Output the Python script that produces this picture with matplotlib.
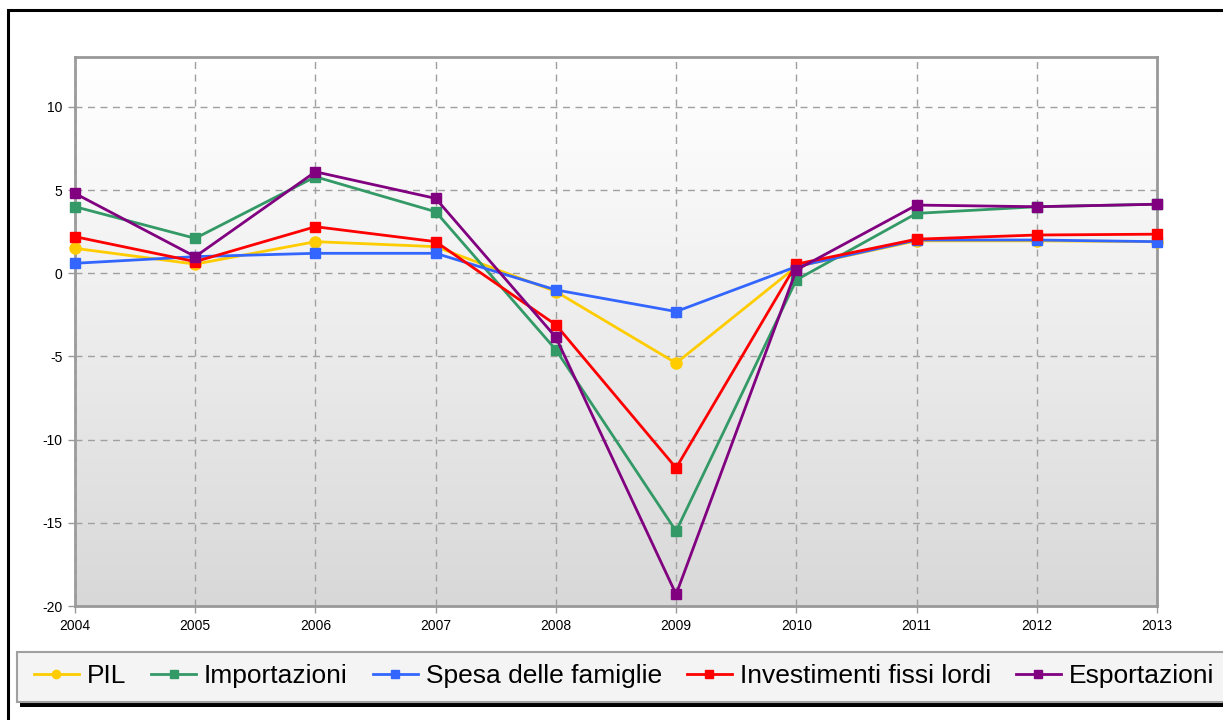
import numpy as np
import matplotlib
matplotlib.use("Agg")
import matplotlib.pyplot as plt
from matplotlib.patches import Rectangle
from matplotlib.lines import Line2D
from matplotlib.colors import LinearSegmentedColormap

years = [2004, 2005, 2006, 2007, 2008, 2009, 2010, 2011, 2012, 2013]
pil = [1.5, 0.55, 1.9, 1.6, -1.1, -5.4, 0.4, 1.95, 1.95, 1.9]
importazioni = [4.0, 2.1, 5.8, 3.7, -4.6, -15.5, -0.4, 3.6, 4.0, 4.15]
spesa = [0.6, 1.0, 1.2, 1.2, -1.0, -2.3, 0.4, 2.0, 2.0, 1.9]
investimenti = [2.2, 0.7, 2.8, 1.9, -3.1, -11.7, 0.55, 2.05, 2.3, 2.35]
esportazioni = [4.8, 1.0, 6.1, 4.5, -3.85, -19.3, 0.2, 4.1, 4.0, 4.15]

series = [
    ("PIL", pil, "#ffcc00", "o"),
    ("Importazioni", importazioni, "#339966", "s"),
    ("Spesa delle famiglie", spesa, "#3366ff", "s"),
    ("Investimenti fissi lordi", investimenti, "#ff0000", "s"),
    ("Esportazioni", esportazioni, "#800080", "s"),
]

W, H = 1223, 720
fig = plt.figure(figsize=(W / 100, H / 100), dpi=100)
fig.patch.set_facecolor("white")

narrow = ["Liberation Sans Narrow", "Liberation Sans", "DejaVu Sans"]

# outer frame
fig.add_artist(Rectangle((8 / W, -0.2), 1.2, 1.2 - 10 / H, transform=fig.transFigure,
                         fill=False, edgecolor="black", linewidth=2.2, zorder=0))

ax = fig.add_axes([75 / W, 1 - 606 / H, (1157 - 75) / W, (606 - 57) / H])
ax.set_xlim(2004, 2013)
ax.set_ylim(-20, 13)

# gradient background
grad = np.linspace(0, 1, 256).reshape(-1, 1)
cmap = LinearSegmentedColormap.from_list("g", [(0, "#d8d8d8"), (0.85, "#fbfbfb"), (1, "#ffffff")])
ax.imshow(grad, aspect="auto", cmap=cmap, extent=[2004, 2013, -20, 13], origin="lower", zorder=0)

ax.grid(True, color="#a0a0a0", linestyle=(0, (5, 4)), linewidth=1.0, zorder=1)
ax.set_axisbelow(False)

for name, vals, col, mk in series:
    ms = 8 if mk == "o" else 7.5
    ax.plot(years, vals, color=col, linewidth=2, marker=mk, markersize=ms,
            markeredgecolor=col, zorder=3, clip_on=False, label=name)

ax.set_xticks(years)
ax.set_xticklabels([str(y) for y in years], fontsize=10, family=narrow)
ax.set_yticks([-20, -15, -10, -5, 0, 5, 10])
ax.set_yticklabels(["-20", "-15", "-10", "-5", "0", "5", "10"], fontsize=10, family=narrow)
ax.tick_params(axis="both", length=5, color="#999999", width=1, pad=4)
ax.tick_params(axis="x", pad=4)
for s in ax.spines.values():
    s.set_color("#999999")
    s.set_linewidth(2)

# legend box
lx0, ly0, lx1, ly1 = 17, 652, 1240, 702
fig.add_artist(Rectangle((lx0 / W, 1 - ly1 / H), (lx1 - lx0) / W, (ly1 - ly0) / H,
                         transform=fig.transFigure, facecolor="#f4f4f4", edgecolor="#a0a0a0",
                         linewidth=1.5, zorder=2))
fig.add_artist(Rectangle((20 / W, 1 - 707 / H), (1240 - 20) / W, 5 / H,
                         transform=fig.transFigure, facecolor="black", edgecolor="none", zorder=1))

handles = [Line2D([0], [0], color=c, linewidth=2, marker=m, markersize=6 if m == "o" else 5.5,
                  markeredgecolor=c) for _, _, c, m in series]
labels = [s[0] for s in series]
leg = fig.legend(handles, labels, loc="center left", bbox_to_anchor=(34 / W, 1 - 676 / H),
                 ncol=5, frameon=False, handlelength=1.7, handletextpad=0.3,
                 columnspacing=0.95, borderpad=0, borderaxespad=0,
                 prop={"family": narrow, "size": 19})
leg.set_zorder(3)

fig.savefig("out.png", dpi=100, facecolor="white")
